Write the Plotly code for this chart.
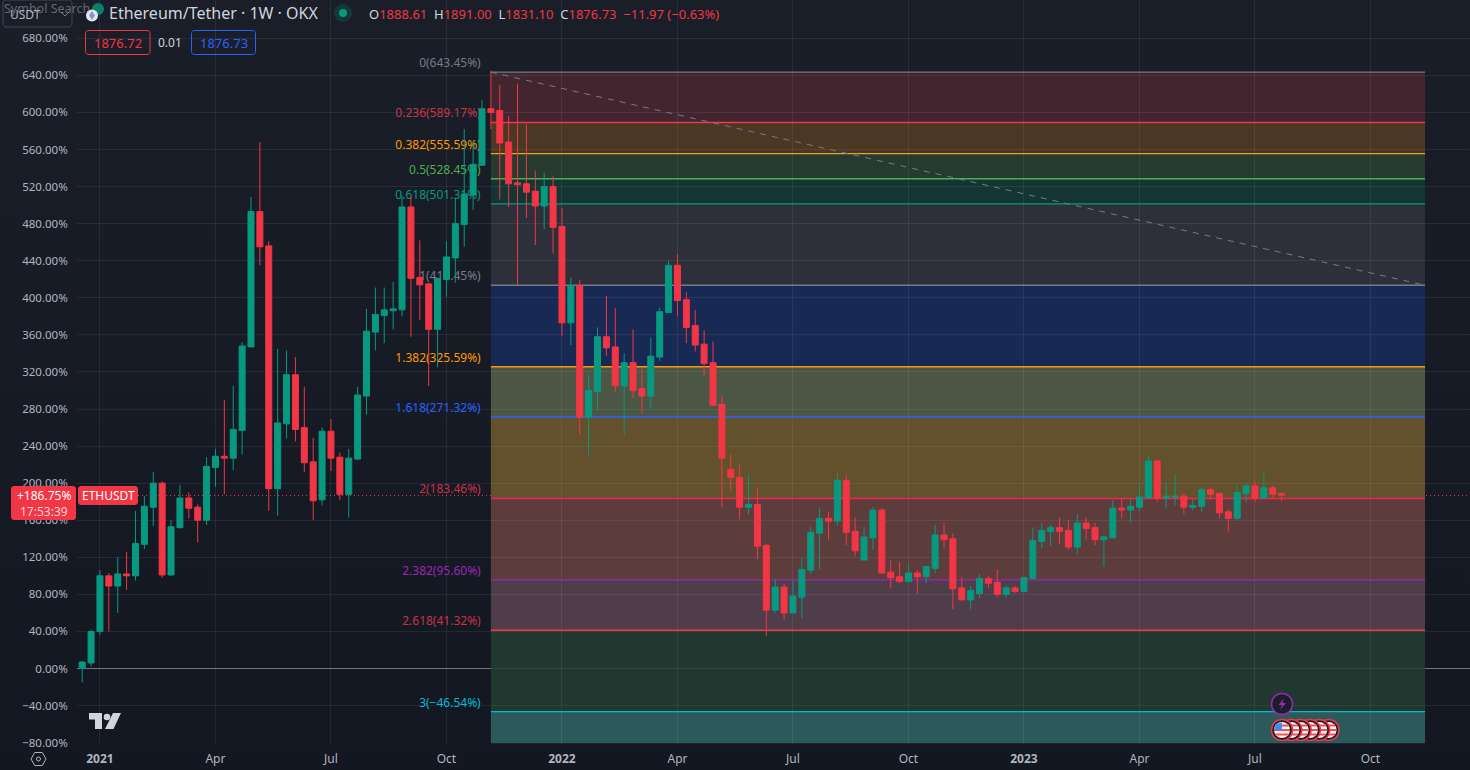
import math
import pandas as pd
import plotly.graph_objects as go

# weekly ETHUSDT candles, values in % on the percent scale of the chart
open_vals = [0, 6, 40, 100, 89, 102, 100, 134, 174, 200, 101, 152, 184, 174, 160, 217, 229, 227, 257, 347,
             493, 456, 194, 264, 317, 260, 223, 182, 256, 228, 188, 226, 294, 363, 381, 386, 387, 498, 422, 415,
             366, 420, 443, 479, 511, 543, 604, 602, 568, 524, 523, 515, 499, 520, 477, 373, 413, 271, 299, 358,
             347, 305, 330, 302, 294, 336, 384, 435, 398, 370, 350, 330, 285, 215, 206, 174, 177, 133, 63, 88,
             60, 77, 106, 146, 162, 159, 203, 148, 117, 141, 171, 104, 99, 94, 103, 99, 108, 144, 140, 87,
             74, 81, 97, 93, 80, 87, 83, 97, 137, 148, 152, 149, 131, 157, 152, 139, 141, 173, 171, 174,
             184, 224, 184, 185, 186, 174, 175, 193, 189, 169, 162, 189, 197, 184, 195, 189]
high_vals = [8, 42, 106, 103, 120, 126, 170, 186, 212, 202, 160, 198, 190, 177, 228, 237, 290, 305, 352, 509,
             568, 461, 345, 343, 336, 304, 249, 260, 269, 233, 237, 304, 388, 411, 411, 417, 510, 509, 462, 416,
             421, 461, 508, 582, 570, 613, 645, 630, 596, 631, 587, 537, 535, 531, 497, 422, 419, 317, 368, 402,
             389, 340, 366, 324, 357, 389, 440, 447, 406, 387, 365, 353, 294, 231, 220, 209, 194, 134, 97, 92,
             95, 119, 153, 173, 169, 211, 209, 163, 153, 174, 173, 117, 115, 112, 106, 111, 155, 157, 146, 98,
             89, 102, 100, 107, 90, 89, 99, 152, 157, 155, 163, 160, 167, 163, 157, 144, 182, 184, 183, 198,
             230, 225, 201, 209, 189, 183, 196, 195, 190, 172, 197, 200, 202, 211, 197, 189]
low_vals = [-15, 2, 36, 40, 60, 85, 95, 129, 154, 98, 100, 151, 162, 136, 155, 196, 188, 214, 231, 347,
            435, 170, 165, 248, 245, 212, 160, 176, 213, 182, 163, 225, 274, 343, 351, 366, 380, 358, 376, 305,
            325, 401, 416, 455, 495, 543, 582, 506, 498, 414, 486, 457, 474, 448, 359, 349, 252, 230, 279, 337,
            298, 252, 292, 275, 281, 332, 384, 380, 351, 342, 316, 284, 174, 192, 161, 166, 118, 35, 60, 53,
            60, 54, 102, 107, 139, 154, 133, 121, 117, 128, 103, 87, 92, 93, 81, 92, 103, 130, 64, 74,
            64, 76, 87, 77, 76, 81, 83, 97, 130, 132, 134, 128, 124, 139, 133, 110, 140, 162, 158, 170,
            183, 180, 173, 176, 166, 171, 169, 182, 162, 148, 160, 179, 180, 183, 184, 181]
close_vals = [7, 40, 100, 89, 102, 100, 135, 175, 200, 101, 153, 184, 173, 160, 218, 229, 227, 258, 348, 493,
              455, 194, 265, 317, 258, 222, 181, 256, 227, 188, 227, 295, 364, 382, 387, 388, 498, 421, 414, 366,
              421, 444, 480, 512, 544, 604, 600, 567, 523, 522, 514, 499, 520, 476, 373, 413, 271, 300, 358, 346,
              305, 330, 300, 294, 337, 385, 435, 397, 368, 349, 329, 284, 227, 206, 174, 177, 132, 63, 88, 60,
              78, 107, 147, 162, 159, 203, 147, 127, 142, 171, 103, 98, 94, 103, 99, 110, 144, 139, 86, 74,
              84, 97, 92, 80, 87, 83, 98, 138, 149, 152, 148, 131, 157, 151, 139, 142, 173, 171, 175, 185,
              224, 184, 186, 186, 174, 176, 193, 188, 168, 162, 190, 197, 184, 195, 188, 187]

# fib retracement
fib_ratio = ["0", "0.236", "0.382", "0.5", "0.618", "1", "1.382", "1.618", "2", "2.382", "2.618", "3"]
fib_value = [643.45, 589.17, 555.59, 528.45, 501.31, 413.45, 325.59, 271.32, 183.46, 95.60, 41.32, -46.54]
fib_line = ["#787b86", "#f23645", "#f0a020", "#4caf50", "#089981", "#787b86",
            "#ff9800", "#2962ff", "#f7225a", "#9c27b0", "#f23645", "#00bcd4"]
fib_text = ["#787b86", "#c93446", "#ff9800", "#4caf50", "#089981", "#787b86",
            "#ff9800", "#2962ff", "#c92f45", "#9c27b0", "#c93446", "#00bcd4"]
fib_fill = ["#432530", "#4a3724", "#263a2f", "#143534", "#2d303a", "#182953",
            "#4c5644", "#63502c", "#5d3c3c", "#503d4a", "#20382f", "#2c5a5b"]

y_ticks = [680, 640, 600, 560, 520, 480, 440, 400, 360, 320, 280, 240, 200, 160, 120, 80, 40, 0, -40, -80]
x_ticks = ["2021-01-04", "2021-04-05", "2021-07-05", "2021-10-04", "2022-01-03", "2022-04-04",
           "2022-07-04", "2022-10-03", "2023-01-02", "2023-04-03", "2023-07-03", "2023-10-02"]
x_labels = ["<b>2021</b>", "Apr", "Jul", "Oct", "<b>2022</b>", "Apr", "Jul", "Oct", "<b>2023</b>", "Apr", "Jul", "Oct"]

last_pct = 186.75
fib_start = "2021-11-08"
fib_end = "2023-11-14"
label_end = "2021-10-31"

GREEN = "#089981"
RED = "#f23645"
FONT = "Noto Sans"

W, H = 1470, 770


def X(px):
    return px / W


def Y(px):
    return 1 - px / H


def poly(points, close=True):
    s = "M" + " L".join(f"{X(a):.5f},{Y(b):.5f}" for a, b in points)
    return s + (" Z" if close else "")


def rrect(x0, y0, x1, y1, r=3):
    pts = []
    for cx, cy, a0 in [(x1 - r, y0 + r, -90), (x1 - r, y1 - r, 0), (x0 + r, y1 - r, 90), (x0 + r, y0 + r, 180)]:
        for k in range(5):
            t = math.radians(a0 + k * 22.5)
            pts.append((cx + r * math.cos(t), cy + r * math.sin(t)))
    return poly(pts)


def box(x0, y0, x1, y1, line="rgba(0,0,0,0)", fill="rgba(0,0,0,0)", width=1):
    return dict(type="path", path=rrect(x0, y0, x1, y1), xref="paper", yref="paper",
                line=dict(color=line, width=width), fillcolor=fill, layer="above")


def circle(cx, cy, r, fill, line="rgba(0,0,0,0)", width=0):
    return dict(type="circle", xref="paper", yref="paper", x0=X(cx - r), x1=X(cx + r), y0=Y(cy + r), y1=Y(cy - r),
                fillcolor=fill, line=dict(color=line, width=width), layer="above")


def text(x, y, s, size=12, color="#b2b5be", anchor="left", font=FONT):
    return dict(x=X(x), y=Y(y), xref="paper", yref="paper", text=s, showarrow=False, xanchor=anchor,
                yanchor="middle", font=dict(size=size, color=color, family=font), align=anchor)


weeks = pd.date_range("2020-12-21", periods=len(close_vals), freq="7D")

fig = go.Figure(go.Candlestick(
    x=weeks, open=open_vals, high=high_vals, low=low_vals, close=close_vals,
    increasing=dict(line=dict(color=GREEN, width=1), fillcolor=GREEN),
    decreasing=dict(line=dict(color=RED, width=1), fillcolor=RED),
    whiskerwidth=0, hoverinfo="skip",
))

shapes = []
# zones
lower = fib_value[1:] + [-81]
for top, bottom, col in zip(fib_value, lower, fib_fill):
    shapes.append(dict(type="rect", xref="x", yref="y", x0=fib_start, x1=fib_end, y0=bottom, y1=top,
                       fillcolor=col, line=dict(width=0), layer="below"))
# level lines
for val, col in zip(fib_value, fib_line):
    shapes.append(dict(type="line", xref="x", yref="y", x0=fib_start, x1=fib_end, y0=val, y1=val,
                       line=dict(color=col, width=1.4), layer="between"))
# labels stay under the candles, so they are shape labels and not annotations
for ratio, val, col in zip(fib_ratio, fib_value, fib_text):
    pct = f"{val:.2f}%".replace("-", "\u2212")
    shapes.append(dict(type="line", xref="x", yref="y", x0=label_end, x1=fib_start, y0=val, y1=val,
                       line=dict(color="rgba(0,0,0,0)", width=0), layer="between",
                       label=dict(text=f"{ratio}({pct})", textposition="start", xanchor="right", yanchor="bottom",
                                  textangle=0, padding=0, font=dict(size=12, color=col, family=FONT))))
# zero line, last price, trend line
shapes.append(dict(type="line", xref="paper", yref="y", x0=X(77), x1=1, y0=0, y1=0,
                   line=dict(color="#6b6e78", width=1), layer="between"))
shapes.append(dict(type="line", xref="paper", yref="y", x0=X(138), x1=1, y0=last_pct, y1=last_pct,
                   line=dict(color=RED, width=1, dash="1px,3px"), layer="between"))
shapes.append(dict(type="line", xref="x", yref="y", x0=fib_start, x1=fib_end, y0=fib_value[0], y1=fib_value[5],
                   line=dict(color="#787b86", width=1, dash="6px,6px"), layer="above"))

# header boxes
shapes.append(box(3, 0, 72, 27, line="#434651"))
shapes.append(box(85.5, 30.5, 150, 54.5, line=RED))
shapes.append(box(191.5, 30.5, 255.5, 54.5, line="#2962ff"))
shapes.append(circle(343, 13, 9, "rgba(8,153,129,0.2)"))
shapes.append(circle(343, 13, 4, GREEN))
shapes.append(circle(98, 9, 6, "#0c7e6b"))
shapes.append(circle(92, 15.5, 6, "#e8e9ee"))
shapes.append(dict(type="path", path=poly([(92, 11), (95, 15.5), (92, 20), (89, 15.5)]), xref="paper", yref="paper",
                   fillcolor="#8a92d8", line=dict(width=0), layer="above"))
# chevron in the currency box
shapes.append(dict(type="path", path=poly([(61, 12), (65, 16), (69, 12)], close=False), xref="paper", yref="paper",
                   line=dict(color="#787b86", width=1), layer="above"))
# axis badges
shapes.append(box(11, 486, 76, 520, fill=RED))
shapes.append(box(78, 486, 138, 505, fill=RED))

# tradingview logo
logo = dict(xref="paper", yref="paper", fillcolor="#d1d4dc", line=dict(width=0), layer="above", type="path")
shapes.append({**logo, "path": poly([(89, 713), (102, 713), (102, 729), (95, 729), (95, 719.5), (89, 719.5)])})
shapes.append({**logo, "path": poly([(113, 713), (121, 713), (113.5, 729), (105, 729)])})
shapes.append(circle(107, 717, 3.3, "#d1d4dc"))

# settings hexagon
hexagon = [(38.5 + 7.5 * math.cos(math.radians(a)), 759 + 7.5 * math.sin(math.radians(a))) for a in range(0, 360, 60)]
shapes.append(dict(type="path", path=poly(hexagon), xref="paper", yref="paper",
                   line=dict(color="#b2b5be", width=1), layer="above"))
shapes.append(circle(38.5, 759, 2, "rgba(0,0,0,0)", "#b2b5be", 1))

# event marks
shapes.append(circle(1282, 704, 10.5, "#1a1e2a", "#9c27b0", 1.5))
shapes.append(dict(type="path", path=poly([(1284, 698), (1278.5, 705), (1282, 705), (1280, 710), (1286, 703), (1282.5, 703)]),
                   xref="paper", yref="paper", fillcolor="#9c27b0", line=dict(width=0), layer="above"))
for k in range(5, -1, -1):
    cx = 1282 + k * 9.3
    shapes.append(circle(cx, 730, 10.5, "#1a1e2a", RED, 1.5))
    shapes.append(circle(cx, 730, 8, "#f4f4f4"))
    for dy in (-4.5, 0, 4.5):
        half = math.sqrt(64 - dy * dy)
        shapes.append(dict(type="line", xref="paper", yref="paper", x0=X(cx - half), x1=X(cx + half),
                           y0=Y(730 + dy), y1=Y(730 + dy), line=dict(color="#f0505c", width=2), layer="above"))
    if k == 0:
        shapes.append(dict(type="path", path=poly([(cx - 6, 724), (cx, 722.5), (cx, 730), (cx - 8, 730)]),
                           xref="paper", yref="paper", fillcolor="#3f8fe8", line=dict(width=0), layer="above"))

gap = "&nbsp; "
annotations = [
    text(2, 8, "Symbol Search", 12.5, "rgba(178,181,190,0.5)"),
    text(8, 15, "USDT", 12, "#b2b5be"),
    text(107, 13, "Ethereum/Tether \u00b7 1W \u00b7 OKX", 16, "#d1d4dc"),
    text(367, 14,
         f'O<span style="color:{RED}">1888.61</span>{gap}H<span style="color:{RED}">1891.00</span>{gap}'
         f'L<span style="color:{RED}">1831.10</span>{gap}C<span style="color:{RED}">1876.73</span>{gap}'
         f'<span style="color:{RED}">\u221211.97 (\u22120.63%)</span>', 13, "#d1d4dc"),
    text(118, 43, "1876.72", 13, RED, "center"),
    text(170, 43, "0.01", 12, "#d1d4dc", "center"),
    text(223.5, 43, "1876.73", 13, "#2962ff", "center"),
    text(43.5, 495.5, f"+{last_pct}%", 12, "#ffffff", "center"),
    text(43.5, 511, "17:53:39", 12, "#fbd5d9", "center"),
    text(108, 495.5, "ETHUSDT", 12, "#ffffff", "center"),
]

fig.update_layout(
    width=W, height=H,
    margin=dict(l=0, r=0, t=0, b=0, autoexpand=False),
    paper_bgcolor="rgba(0,0,0,0)",
    plot_bgcolor="rgba(0,0,0,0)",
    showlegend=False,
    hovermode=False,
    dragmode=False,
    boxgap=0.1,
    boxgroupgap=0.25,
    shapes=shapes,
    annotations=annotations,
    font=dict(family=FONT, size=12, color="#b2b5be"),
    xaxis=dict(
        domain=[77 / W, 1],
        range=["2020-12-16 22:00", "2023-12-19 10:00"],
        rangeslider=dict(visible=False),
        tickmode="array", tickvals=x_ticks, ticktext=x_labels,
        showgrid=True, gridcolor="rgba(255,255,255,0.065)", gridwidth=1,
        zeroline=False, showline=False,
        ticks="outside", ticklen=4, tickcolor="rgba(0,0,0,0)",
        tickfont=dict(size=12, color="#b2b5be", family=FONT),
    ),
    yaxis=dict(
        domain=[1 - 743.5 / H, 1],
        range=[-80.9, 721.3],
        tickmode="array", tickvals=y_ticks,
        ticktext=[f"{v:.2f}%".replace("-", "\u2212") for v in y_ticks],
        showgrid=True, gridcolor="rgba(255,255,255,0.065)", gridwidth=1,
        zeroline=False, showline=False,
        ticks="outside", ticklen=6, tickcolor="rgba(0,0,0,0)",
        tickfont=dict(size=11.5, color="#b2b5be", family=FONT),
    ),
)

page = ("document.documentElement.style.height='100%';"
        "document.body.style.margin='0';document.body.style.overflow='hidden';"
        "document.body.style.height='100%';"
        "document.body.style.background='linear-gradient(#1a1e29,#131722)';")
fig.write_html("out.html", post_script=page, config=dict(displayModeBar=False))
